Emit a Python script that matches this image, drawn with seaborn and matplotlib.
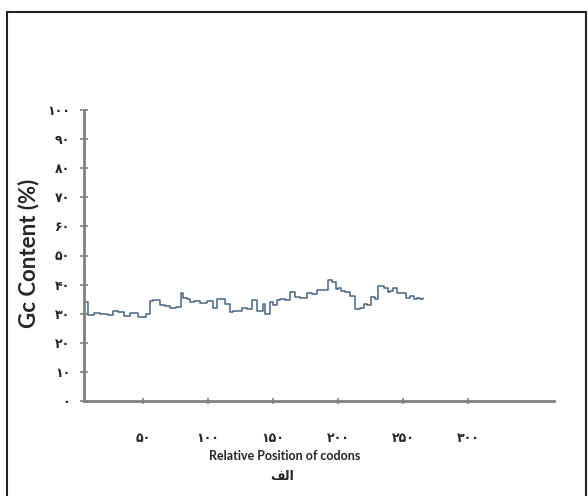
import numpy as np
import pandas as pd
import matplotlib
matplotlib.use('Agg')
import matplotlib.pyplot as plt
import seaborn as sns
from matplotlib.patches import Rectangle

# sliding-window GC content
position = [5, 8, 12, 17, 23, 27, 31, 35, 40, 46, 52, 55, 58, 61, 63, 67, 71, 75,
            79, 81, 84, 86, 89, 94, 99, 104, 107, 109, 113, 117, 119, 122, 126, 130,
            134, 138, 142, 144, 148, 150, 153, 155, 159, 163, 167, 171, 174, 176, 180,
            184, 188, 192, 195, 198, 200, 202, 205, 209, 213, 217, 220, 222, 225, 228,
            231, 235, 238, 240, 242, 245, 248, 252, 255, 258, 261, 263, 265]
gc = [34.0, 29.5, 30.2, 30.0, 29.6, 31.0, 30.5, 29.2, 30.3, 29.0, 29.8, 34.5, 34.7, 34.6,
      33.0, 32.8, 31.8, 32.2, 37.0, 35.5, 35.2, 34.0, 34.3, 33.8, 34.2, 32.0, 35.0, 35.2,
      33.5, 30.5, 31.0, 30.8, 32.0, 31.6, 34.7, 31.0, 33.5, 30.0, 34.0, 33.0, 34.7, 35.0,
      34.6, 37.3, 35.7, 35.3, 35.5, 37.0, 36.6, 38.0, 38.2, 41.5, 41.0, 38.5, 38.8, 37.8,
      37.5, 36.0, 31.5, 31.8, 33.3, 33.0, 35.7, 35.0, 39.5, 38.8, 37.5, 37.8, 39.0, 37.0,
      37.2, 35.3, 36.0, 35.0, 35.3, 35.0, 35.4]
x_ticks = [50, 100, 150, 200, 250, 300]
y_ticks = [0, 10, 20, 30, 40, 50, 60, 70, 80, 90, 100]

fa = str.maketrans('0123456789', '۰۱۲۳۴۵۶۷۸۹')
def persian(n):
    return str(n).translate(fa)

df = pd.DataFrame({'pos': position, 'gc': gc})

sns.set_style('white')
plt.rcParams['font.family'] = ['Lato', 'DejaVu Sans']

fig = plt.figure(figsize=(5.88, 4.96), dpi=100)
ax = fig.add_axes([84/588, 1 - 401/496, (554 - 84)/588, (401 - 110)/496])

sns.lineplot(data=df, x='pos', y='gc', ax=ax, color='#4a6580', linewidth=1.1,
             drawstyle='steps-post')

ax.set_xlim(4.6, 366)
ax.set_ylim(0, 100)
ax.set_xticks(x_ticks)
ax.set_xticklabels([persian(v) for v in x_ticks], family=['DejaVu Sans'],
                   fontsize=9, fontweight='bold')
ax.set_yticks(y_ticks)
ax.set_yticklabels([persian(v) for v in y_ticks], family=['DejaVu Sans'],
                   fontsize=9, fontweight='bold')
ax.tick_params(axis='y', left=True, direction='inout', length=6, width=1.2,
               color='#808080', pad=7)
ax.tick_params(axis='x', bottom=True, direction='inout', length=5, width=1.2,
               color='#808080', pad=20)

for s in ['top', 'right']:
    ax.spines[s].set_visible(False)
for s in ['left', 'bottom']:
    ax.spines[s].set_color('#808080')
    ax.spines[s].set_linewidth(2)

ax.set_xlabel('')
ax.set_ylabel('')
fig.text(29/588, 1 - 253/496, 'Gc Content (%)', rotation=90, ha='center', va='center',
         fontsize=16, fontweight='bold')
fig.text(285/588, 1 - 456/496, 'Relative Position of codons', ha='center', va='center',
         fontsize=9, fontweight='bold')
# "الف" in visual order (presentation forms)
fig.text(282/588, 1 - 476/496, '\uFED2\uFEDF\uFE8D', ha='center', va='center',
         fontsize=9, fontweight='bold', family=['DejaVu Sans'])

fig.patches.append(Rectangle((7/588, -0.05), (586 - 7)/588, 1 - 12/496 + 0.05,
                             transform=fig.transFigure, fill=False,
                             edgecolor='#222222', linewidth=1.5))

fig.savefig('out.png', dpi=100)
